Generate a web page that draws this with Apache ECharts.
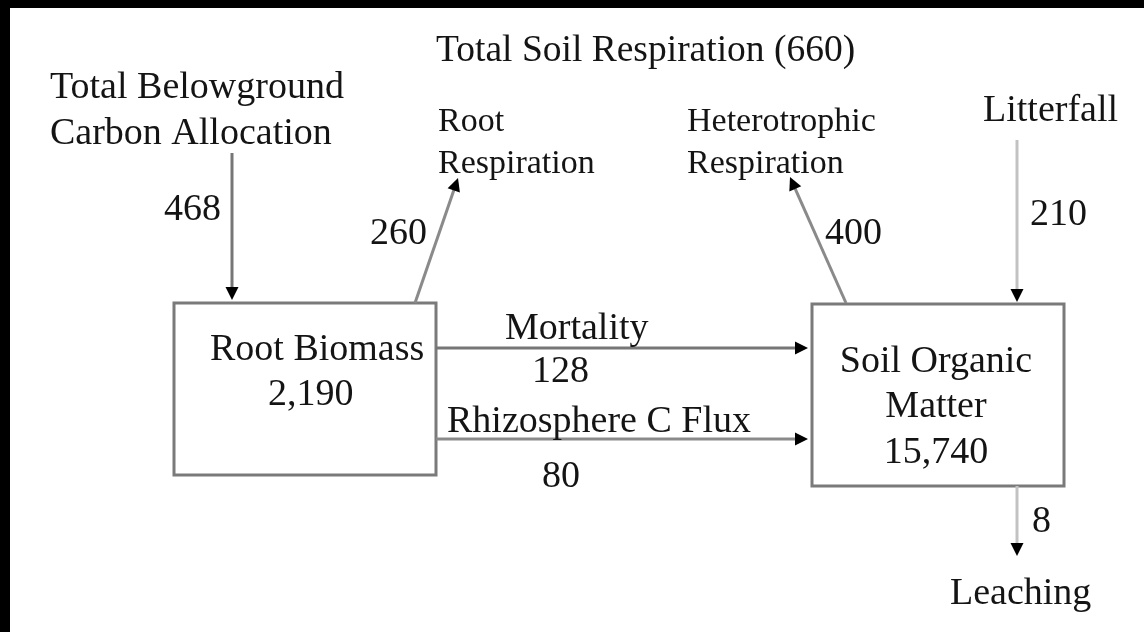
<!DOCTYPE html>
<html><head><meta charset="utf-8">
<script src="https://cdn.jsdelivr.net/npm/echarts@6/dist/echarts.min.js"></script>
<style>
html,body{margin:0;padding:0;background:#000;width:1144px;height:632px;overflow:hidden}
#chart{position:absolute;left:10px;top:8px;width:1134px;height:624px;background:#fff}
</style></head><body><div id="chart"></div>
<script>
// ---------- data ----------
const poolNames = ['Root Biomass', 'Soil Organic Matter'];
const poolValues = [2190, 15740];
const fluxNames = ['Total Belowground Carbon Allocation', 'Root Respiration', 'Heterotrophic Respiration',
                   'Litterfall', 'Mortality', 'Rhizosphere C Flux', 'Leaching'];
const fluxValues = [468, 260, 400, 210, 128, 80, 8];
const totalSoilRespirationName = 'Total Soil Respiration';
const totalSoilRespirationValue = 660;

// ---------- layout (page pixels, y downward) ----------
const boxLayout = [[174, 303, 436, 475], [812, 304, 1064, 486]];
const poolLineBreak = [[2], [2, 3]];           // words per line of the pool name
const poolTextLayout = [                        // [x, first baseline, align, line gap, value baseline, value x]
  [210, 358, 'left', 45, 403, 268],
  [936, 370, 'center', 45, 461, 936]
];
const arrowLayout = [
  [232, 153, 232, 300],
  [415, 303, 458, 178],
  [846, 303, 790, 177],
  [1017, 140, 1017, 302],
  [436, 348, 808, 348],
  [436, 439, 808, 439],
  [1017, 486, 1017, 556]
];
const arrowColor = ['#767676', '#8a8a8a', '#8a8a8a', '#c2c2c2', '#767676', '#8a8a8a', '#c2c2c2'];
const fluxNameLayout = [   // [x, baseline, align, size, words on first line, line gap]
  [50, 96, 'left', 38, 2, 46],
  [438, 130, 'left', 34, 1, 42],
  [687, 130, 'left', 34, 1, 42],
  [983, 119, 'left', 38, 9, 0],
  [505, 337, 'left', 38, 9, 0],
  [447, 430, 'left', 38, 9, 0],
  [950, 602, 'left', 38, 9, 0]
];
const fluxValueLayout = [  // [x, baseline, align]
  [221, 218, 'right'],
  [427, 242, 'right'],
  [825, 242, 'left'],
  [1030, 223, 'left'],
  [532, 380, 'left'],
  [542, 485, 'left'],
  [1032, 530, 'left']
];
const headerLayout = [436, 59, 'left', 37.5];
const FONT = '"Liberation Serif", "Times New Roman", serif';
const TEXT_COLOR = '#141414';
const BASELINE_TO_MIDDLE = 0.22;

// ---------- build text items ----------
const fmt = v => v.toLocaleString('en-US');
const texts = [];
texts.push([totalSoilRespirationName + ' (' + fmt(totalSoilRespirationValue) + ')', headerLayout[0], headerLayout[1], headerLayout[2], headerLayout[3]]);
fluxNames.forEach((name, i) => {
  const [x, b, al, sz, n, gap] = fluxNameLayout[i];
  const words = name.split(' ');
  const l1 = words.slice(0, n).join(' '), l2 = words.slice(n).join(' ');
  texts.push([l1, x, b, al, sz]);
  if (l2) texts.push([l2, x, b + gap, al, sz]);
  const [vx, vb, va] = fluxValueLayout[i];
  texts.push([fmt(fluxValues[i]), vx, vb, va, 38]);
});
poolNames.forEach((name, i) => {
  const words = name.split(' ');
  const [x, b, al, gap, vb, vx] = poolTextLayout[i];
  let start = 0;
  poolLineBreak[i].concat([words.length]).forEach((end, k) => {
    if (end > start) texts.push([words.slice(start, end).join(' '), x, b + k * gap, al, 38]);
    start = end;
  });
  texts.push([fmt(poolValues[i]), vx, vb, al === 'center' ? 'center' : 'left', 38]);
});

const chart = echarts.init(document.getElementById('chart'), null, { renderer: 'canvas' });
chart.setOption({
  animation: false,
  backgroundColor: '#fff',
  grid: { left: 0, right: 0, top: 0, bottom: 0 },
  xAxis: { type: 'value', min: 10, max: 1144, show: false },
  yAxis: { type: 'value', min: 8, max: 632, inverse: true, show: false },
  series: [
    {
      type: 'custom', coordinateSystem: 'cartesian2d', silent: true,
      data: poolValues.map((v, i) => [i, v]),
      renderItem(params, api) {
        const i = api.value(0);
        const [x1, y1, x2, y2] = boxLayout[i];
        const a = api.coord([x1, y1]), b = api.coord([x2, y2]);
        return { type: 'rect', shape: { x: a[0], y: a[1], width: b[0] - a[0], height: b[1] - a[1] },
          style: { fill: '#fff', stroke: '#7a7a7a', lineWidth: 3 } };
      }
    },
    {
      type: 'custom', coordinateSystem: 'cartesian2d', silent: true,
      data: fluxValues.map((v, i) => [i, v]),
      renderItem(params, api) {
        const i = api.value(0);
        const [x1, y1, x2, y2] = arrowLayout[i];
        const p1 = api.coord([x1, y1]), p2 = api.coord([x2, y2]);
        const dx = p2[0] - p1[0], dy = p2[1] - p1[1], L = Math.hypot(dx, dy);
        const ux = dx / L, uy = dy / L, hl = 13, hw = 6.5;
        const bx = p2[0] - ux * hl, by = p2[1] - uy * hl;
        return { type: 'group', children: [
          { type: 'line', shape: { x1: p1[0], y1: p1[1], x2: bx + ux * 2, y2: by + uy * 2 },
            style: { stroke: arrowColor[i], lineWidth: 3 } },
          { type: 'polygon', shape: { points: [[p2[0], p2[1]], [bx - uy * hw, by + ux * hw], [bx + uy * hw, by - ux * hw]] },
            style: { fill: '#000' } }
        ] };
      }
    },
    {
      type: 'custom', coordinateSystem: 'cartesian2d', silent: true,
      data: texts.map((t, i) => [i]),
      renderItem(params, api) {
        const [txt, x, b, al, sz] = texts[api.value(0)];
        const p = api.coord([x, b - BASELINE_TO_MIDDLE * sz]);
        return { type: 'text', style: { text: txt, x: p[0], y: p[1], fill: TEXT_COLOR,
          font: sz + 'px ' + FONT, align: al, verticalAlign: 'middle', textAlign: al, textVerticalAlign: 'middle' } };
      }
    }
  ]
});
</script></body></html>
